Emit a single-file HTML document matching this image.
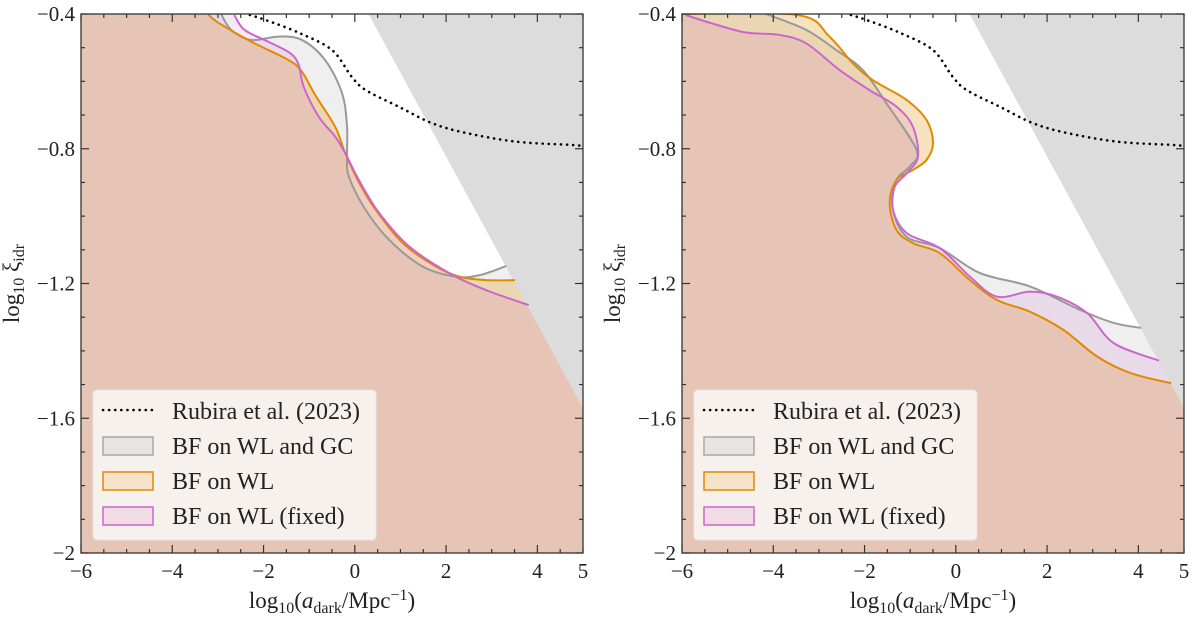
<!DOCTYPE html>
<html><head><meta charset="utf-8"><style>
body{margin:0;background:#fff;}
svg text{font-family:"Liberation Serif",serif;fill:#222;}
</style></head><body>
<svg id="svg" width="1200" height="616" xmlns="http://www.w3.org/2000/svg"></svg>
<script>
const xTicks=[-6,-4,-2,0,2,4,5];
const yTicks=[-2,-1.6,-1.2,-0.8,-0.4];
const rubiraX=[-2.3,-1.95,-1.22,-0.5,-0.07,0.24,0.96,1.69,2.43,3.54,4.78,5];
const rubiraY=[-0.403,-0.418,-0.456,-0.507,-0.586,-0.626,-0.675,-0.724,-0.753,-0.779,-0.789,-0.792];
const exclX=[0.3,5,5];
const exclY=[-0.4,-1.57,-0.4];
// left panel
const lGrayX=[-2.93,-2.71,-2.27,-1.68,-1.16,-0.65,-0.28,-0.17,-0.17,-0.13,0.23,0.75,1.49,2.22,2.74,3.32];
const lGrayY=[-0.4,-0.447,-0.477,-0.467,-0.477,-0.537,-0.635,-0.735,-0.824,-0.883,-0.98,-1.07,-1.15,-1.18,-1.175,-1.148];
const lOrX=[-3.22,-3.0,-2.27,-1.45,-1.16,-0.87,-0.43,-0.21,0.09,0.45,1.05,1.78,2.3,2.88,3.51];
const lOrY=[-0.4,-0.425,-0.482,-0.537,-0.571,-0.64,-0.735,-0.813,-0.90,-0.98,-1.08,-1.15,-1.18,-1.19,-1.19];
const lPkX=[-2.64,-2.42,-1.9,-1.42,-1.23,-1.12,-0.79,-0.43,-0.21,0.09,0.53,1.19,2.08,2.88,3.81];
const lPkY=[-0.403,-0.447,-0.482,-0.516,-0.551,-0.616,-0.705,-0.764,-0.813,-0.893,-0.99,-1.09,-1.17,-1.22,-1.264];
// right panel
const rGrayX=[-4.16,-3.28,-2.62,-2.04,-1.52,-0.86,-1.01,-1.30,-1.38,-1.08,-0.35,0.53,1.63,2.73,3.46,4.06];
const rGrayY=[-0.4,-0.447,-0.507,-0.566,-0.665,-0.804,-0.853,-0.893,-0.98,-1.061,-1.095,-1.169,-1.209,-1.279,-1.317,-1.332];
const rOrX=[-6,-3.47,-2.77,-2.26,-1.82,-1.08,-0.64,-0.50,-0.64,-0.94,-1.30,-1.45,-1.30,-0.94,-0.35,0.31,0.90,1.63,2.36,3.10,3.83,4.72];
const rOrY=[-0.4,-0.403,-0.467,-0.546,-0.596,-0.655,-0.715,-0.783,-0.833,-0.863,-0.893,-0.961,-1.041,-1.08,-1.11,-1.19,-1.249,-1.284,-1.338,-1.417,-1.466,-1.496];
const rPkX=[-5.92,-5.34,-4.60,-3.87,-3.28,-2.55,-1.89,-1.30,-0.94,-0.83,-1.08,-1.34,-1.38,-1.08,-0.35,0.31,0.90,1.63,2.22,2.88,3.46,4.45];
const rPkY=[-0.403,-0.428,-0.455,-0.462,-0.487,-0.566,-0.626,-0.675,-0.735,-0.824,-0.873,-0.913,-0.98,-1.05,-1.095,-1.18,-1.239,-1.224,-1.239,-1.288,-1.377,-1.429];

const NS="http://www.w3.org/2000/svg";
const svg=document.getElementById('svg');
function mk(tag,attrs,parent){const e=document.createElementNS(NS,tag);for(const k in attrs)e.setAttribute(k,attrs[k]);(parent||svg).appendChild(e);return e;}

function smooth(pts){let d=`M${pts[0][0]},${pts[0][1]}`;
  for(let i=0;i<pts.length-1;i++){const p0=pts[Math.max(0,i-1)],p1=pts[i],p2=pts[i+1],p3=pts[Math.min(pts.length-1,i+2)];
    const c1=[p1[0]+(p2[0]-p0[0])/6,p1[1]+(p2[1]-p0[1])/6],c2=[p2[0]-(p3[0]-p1[0])/6,p2[1]-(p3[1]-p1[1])/6];
    d+=`C${c1[0]},${c1[1]} ${c2[0]},${c2[1]} ${p2[0]},${p2[1]}`;}
  return d;}

function panel(x0,x1,name,G,O,P){
  const y0=14,y1=553;
  const sx=v=>x0+(v+6)/11*(x1-x0);
  const sy=v=>y0+(-0.4-v)/1.6*(y1-y0);
  const g=mk('g',{});
  
  
  const cid='clip'+name;
  const cp=mk('clipPath',{id:cid},g);mk('rect',{x:x0,y:y0,width:x1-x0,height:y1-y0},cp);
  const pg=mk('g',{'clip-path':`url(#${cid})`},g);
  const series=[[G,'#b0b0b0','#999999','gray-contour',0.2],[O,'#e08a00','#e08a00','orange-contour',0.25],[P,'#cc66cc','#cc66cc','pink-contour',0.15]];
  series.forEach(([s,fc,lc,nm,op])=>{
    const pts=s[0].map((v,i)=>[sx(v),sy(s[1][i])]);
    const c=smooth(pts);
    const last=pts[pts.length-1];
    const f=mk('path',{d:c+`L${sx(5)},${last[1]}L${sx(5)},${sy(-2)}L${sx(-6)},${sy(-2)}L${sx(-6)},${sy(-0.4)}L${pts[0][0]},${sy(-0.4)}Z`,fill:fc,'fill-opacity':op},pg);
    
    
  });
  const tri=mk('polygon',{points:exclX.map((v,i)=>sx(v)+','+sy(exclY[i])).join(' '),fill:'#dcdcdc'},pg);
  
  
  series.forEach(([s,fc,lc,nm])=>{
    const pts=s[0].map((v,i)=>[sx(v),sy(s[1][i])]);
    const l=mk('path',{d:smooth(pts),fill:'none',stroke:lc,'stroke-width':2},pg);
    
    
  });
  const rp=rubiraX.map((v,i)=>[sx(v),sy(rubiraY[i])]);
  const r=mk('path',{d:smooth(rp),fill:'none',stroke:'#000','stroke-width':2.6,'stroke-dasharray':'0.1 6','stroke-linecap':'round'},pg);
  
  
  for(let v=-6;v<=5.001;v+=0.5){const X=sx(v),L=Number.isInteger(v)&&v%2===0?8:4;
    mk('line',{x1:X,y1:y1,x2:X,y2:y1-L,stroke:'#333','stroke-width':1.2},g);
    mk('line',{x1:X,y1:y0,x2:X,y2:y0+L,stroke:'#333','stroke-width':1.2},g);}
  for(let k=0;k<=16;k++){const v=-2+k*0.1,Y=sy(v),L=k%4===0?8:4;
    mk('line',{x1:x0,y1:Y,x2:x0+L,y2:Y,stroke:'#333','stroke-width':1.2},g);
    mk('line',{x1:x1,y1:Y,x2:x1-L,y2:Y,stroke:'#333','stroke-width':1.2},g);}
  mk('rect',{x:x0,y:y0,width:x1-x0,height:y1-y0,fill:'none',stroke:'#333','stroke-width':1.3},g);
  xTicks.forEach(v=>{const t=mk('text',{x:sx(v),y:578,'text-anchor':'middle','font-size':21},g);t.textContent=(v<0?'\u2212':'')+Math.abs(v);
    });
  yTicks.forEach(v=>{const t=mk('text',{x:x0-6,y:sy(v)+7,'text-anchor':'end','font-size':21},g);t.textContent=(v<0?'\u2212':'')+(Math.abs(v)===2?'2':Math.abs(v).toFixed(1));
    });
  const xl=mk('text',{x:(x0+x1)/2,y:608,'text-anchor':'middle','font-size':23},g);
  xl.innerHTML='log<tspan font-size="16" dy="5">10</tspan><tspan dy="-5">(</tspan><tspan font-style="italic">a</tspan><tspan font-size="16" dy="5">dark</tspan><tspan dy="-5">/Mpc</tspan><tspan font-size="16" dy="-8">\u22121</tspan><tspan dy="8">)</tspan>';
  
  const yl=mk('text',{x:0,y:0,'text-anchor':'middle','font-size':23,transform:`translate(${x0-62},${(y0+y1)/2}) rotate(-90)`},g);
  yl.innerHTML='log<tspan font-size="16" dy="5">10</tspan><tspan dy="-5"> \u03BE</tspan><tspan font-size="16" dy="5">idr</tspan>';
  
  const lg=mk('g',{},g);
  
  const lx=x0+12;
  mk('rect',{x:lx,y:390,width:283,height:150,rx:4,fill:'#f8f3f1','fill-opacity':0.95,stroke:'#e8e4e2'},lg);
  mk('line',{x1:lx+10,y1:410,x2:lx+61,y2:410,stroke:'#000','stroke-width':2.6,'stroke-dasharray':'0.1 6','stroke-linecap':'round'},lg);
  const items=[['BF on WL and GC','#e8e4e1','#a8a8a8'],['BF on WL','#f6e2c8','#e08a00'],['BF on WL (fixed)','#f1dbe4','#cc66cc']];
  const labels=['Rubira et al. (2023)'].concat(items.map(i=>i[0]));
  items.forEach((it,i)=>{const Y=437+i*35;mk('rect',{x:lx+10,y:Y,width:50,height:18,fill:it[1],stroke:it[2],'stroke-width':1.5},lg);});
  labels.forEach((s,i)=>{const t=mk('text',{x:lx+79,y:419+i*35,'font-size':24},lg);t.textContent=s;
    });
}
panel(81,583,'left-panel',[lGrayX,lGrayY],[lOrX,lOrY],[lPkX,lPkY]);
panel(682,1184,'right-panel',[rGrayX,rGrayY],[rOrX,rOrY],[rPkX,rPkY]);
</script>
</body></html>
